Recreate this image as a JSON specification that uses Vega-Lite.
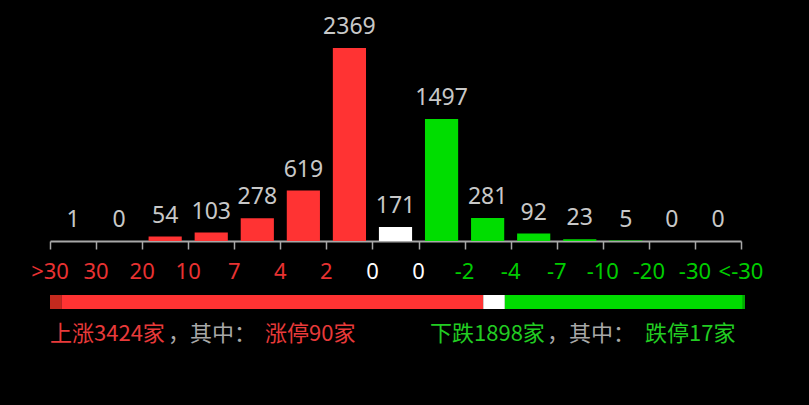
{
  "$schema": "https://vega.github.io/schema/vega-lite/v6.json",
  "background": "#000000",
  "autosize": {"type": "pad"},
  "padding": {"left": 31, "top": 10, "right": 45, "bottom": 60},
  "bounds": "flush",
  "spacing": 54,
  "config": {"view": {"stroke": null}, "font": "Noto Sans"},
  "datasets": {
    "bars": [
      {"bin": ">30", "n": 1, "dir": "up"},
      {"bin": "30~20", "n": 0, "dir": "up"},
      {"bin": "20~10", "n": 54, "dir": "up"},
      {"bin": "10~7", "n": 103, "dir": "up"},
      {"bin": "7~4", "n": 278, "dir": "up"},
      {"bin": "4~2", "n": 619, "dir": "up"},
      {"bin": "2~0", "n": 2369, "dir": "up"},
      {"bin": "0", "n": 171, "dir": "flat"},
      {"bin": "0~-2", "n": 1497, "dir": "down"},
      {"bin": "-2~-4", "n": 281, "dir": "down"},
      {"bin": "-4~-7", "n": 92, "dir": "down"},
      {"bin": "-7~-10", "n": 23, "dir": "down"},
      {"bin": "-10~-20", "n": 5, "dir": "down"},
      {"bin": "-20~-30", "n": 0, "dir": "down"},
      {"bin": "<-30", "n": 0, "dir": "down"}
    ],
    "ticks": [
      {"label": ">30", "bin": ">30", "edge": "start", "sign": "pos"},
      {"label": "30", "bin": "30~20", "edge": "start", "sign": "pos"},
      {"label": "20", "bin": "20~10", "edge": "start", "sign": "pos"},
      {"label": "10", "bin": "10~7", "edge": "start", "sign": "pos"},
      {"label": "7", "bin": "7~4", "edge": "start", "sign": "pos"},
      {"label": "4", "bin": "4~2", "edge": "start", "sign": "pos"},
      {"label": "2", "bin": "2~0", "edge": "start", "sign": "pos"},
      {"label": "0", "bin": "0", "edge": "start", "sign": "zero"},
      {"label": "0", "bin": "0~-2", "edge": "start", "sign": "zero"},
      {"label": "-2", "bin": "-2~-4", "edge": "start", "sign": "neg"},
      {"label": "-4", "bin": "-4~-7", "edge": "start", "sign": "neg"},
      {"label": "-7", "bin": "-7~-10", "edge": "start", "sign": "neg"},
      {"label": "-10", "bin": "-10~-20", "edge": "start", "sign": "neg"},
      {"label": "-20", "bin": "-20~-30", "edge": "start", "sign": "neg"},
      {"label": "-30", "bin": "<-30", "edge": "start", "sign": "neg"},
      {"label": "<-30", "bin": "<-30", "edge": "end", "sign": "neg"}
    ],
    "split": [
      {"seg": "涨停", "n": 90},
      {"seg": "上涨", "n": 3334},
      {"seg": "平盘", "n": 171},
      {"seg": "下跌", "n": 1881},
      {"seg": "跌停", "n": 17}
    ],
    "caption": [
      {"part": "upAll", "txt": "上涨3424家", "tone": "up"},
      {"part": "upNote", "txt": "，其中：", "tone": "note"},
      {"part": "upLimit", "txt": "涨停90家", "tone": "up"},
      {"part": "downAll", "txt": "下跌1898家", "tone": "down"},
      {"part": "downNote", "txt": "，其中：", "tone": "note"},
      {"part": "downLimit", "txt": "跌停17家", "tone": "down"}
    ]
  },
  "vconcat": [
    {
      "width": 691,
      "height": 231,
      "data": {"name": "bars"},
      "layer": [
        {
          "mark": {"type": "bar", "width": {"band": 0.72}},
          "encoding": {
            "x": {
              "field": "bin",
              "type": "nominal",
              "scale": {
                "domain": [">30", "30~20", "20~10", "10~7", "7~4", "4~2", "2~0", "0", "0~-2", "-2~-4", "-4~-7", "-7~-10", "-10~-20", "-20~-30", "<-30"],
                "paddingInner": 0,
                "paddingOuter": 0
              },
              "axis": {
                "title": null,
                "labels": false,
                "grid": false,
                "tickBand": "extent",
                "tickSize": 8,
                "tickWidth": 1.5,
                "domainWidth": 2,
                "domainColor": "#a8a8a8",
                "tickColor": "#a8a8a8"
              }
            },
            "y": {
              "field": "n",
              "type": "quantitative",
              "scale": {"domain": [0, 2835], "nice": false},
              "axis": null
            },
            "color": {
              "field": "dir",
              "type": "nominal",
              "scale": {"domain": ["up", "flat", "down"], "range": ["#ff3333", "#ffffff", "#00dd00"]},
              "legend": null
            }
          }
        },
        {
          "mark": {"type": "text", "baseline": "alphabetic", "dy": -14, "fontSize": 23, "color": "#c8c8c8"},
          "encoding": {
            "x": {"field": "bin", "type": "nominal"},
            "y": {"field": "n", "type": "quantitative"},
            "text": {"field": "n"}
          }
        },
        {
          "data": {"name": "ticks"},
          "transform": [{"filter": "datum.edge == 'start'"}],
          "mark": {"type": "text", "baseline": "middle", "dy": 31, "fontSize": 22},
          "encoding": {
            "x": {"field": "bin", "type": "nominal", "bandPosition": 0},
            "y": {"datum": 0, "type": "quantitative"},
            "text": {"field": "label"},
            "color": {
              "field": "sign",
              "type": "nominal",
              "scale": {"domain": ["pos", "zero", "neg"], "range": ["#e83232", "#ffffff", "#00cc00"]},
              "legend": null
            }
          }
        },
        {
          "data": {"name": "ticks"},
          "transform": [{"filter": "datum.edge == 'end'"}],
          "mark": {"type": "text", "baseline": "middle", "dy": 31, "fontSize": 22},
          "encoding": {
            "x": {"field": "bin", "type": "nominal", "bandPosition": 1},
            "y": {"datum": 0, "type": "quantitative"},
            "text": {"field": "label"},
            "color": {
              "field": "sign",
              "type": "nominal",
              "scale": {"domain": ["pos", "zero", "neg"], "range": ["#e83232", "#ffffff", "#00cc00"]},
              "legend": null
            }
          }
        }
      ],
      "resolve": {"scale": {"color": "independent"}}
    },
    {
      "width": 695,
      "height": 14,
      "layer": [
        {
          "data": {"name": "split"},
          "transform": [{"window": [{"op": "row_number", "as": "rank"}]}],
          "mark": {"type": "bar", "height": 14},
          "encoding": {
            "x": {
              "field": "n",
              "type": "quantitative",
              "stack": "zero",
              "scale": {"domain": [0, 5493], "nice": false},
              "axis": null
            },
            "order": {"field": "rank", "type": "quantitative"},
            "color": {
              "field": "seg",
              "type": "nominal",
              "scale": {
                "domain": ["涨停", "上涨", "平盘", "下跌", "跌停"],
                "range": ["#c42a1e", "#ff3333", "#ffffff", "#00dd00", "#00a800"]
              },
              "legend": null
            }
          }
        },
        {
          "data": {"name": "caption"},
          "transform": [{"filter": "datum.part == 'upAll'"}],
          "mark": {"type": "text", "align": "left", "baseline": "middle", "dy": 32, "dx": 0, "fontSize": 22, "font": "Noto Sans CJK SC"},
          "encoding": {
            "x": {"datum": 0, "type": "quantitative"},
            "text": {"field": "txt"},
            "color": {"field": "tone", "type": "nominal", "scale": {"domain": ["up", "note", "down"], "range": ["#e83a3a", "#a8a8a8", "#22cc22"]}, "legend": null}
          }
        },
        {
          "data": {"name": "caption"},
          "transform": [{"filter": "datum.part == 'upNote'"}],
          "mark": {"type": "text", "align": "left", "baseline": "middle", "dy": 32, "dx": 118, "fontSize": 22, "font": "Noto Sans CJK SC"},
          "encoding": {
            "x": {"datum": 0, "type": "quantitative"},
            "text": {"field": "txt"},
            "color": {"field": "tone", "type": "nominal", "scale": {"domain": ["up", "note", "down"], "range": ["#e83a3a", "#a8a8a8", "#22cc22"]}, "legend": null}
          }
        },
        {
          "data": {"name": "caption"},
          "transform": [{"filter": "datum.part == 'upLimit'"}],
          "mark": {"type": "text", "align": "left", "baseline": "middle", "dy": 32, "dx": 215, "fontSize": 22, "font": "Noto Sans CJK SC"},
          "encoding": {
            "x": {"datum": 0, "type": "quantitative"},
            "text": {"field": "txt"},
            "color": {"field": "tone", "type": "nominal", "scale": {"domain": ["up", "note", "down"], "range": ["#e83a3a", "#a8a8a8", "#22cc22"]}, "legend": null}
          }
        },
        {
          "data": {"name": "caption"},
          "transform": [{"filter": "datum.part == 'downAll'"}],
          "mark": {"type": "text", "align": "left", "baseline": "middle", "dy": 32, "dx": 380, "fontSize": 22, "font": "Noto Sans CJK SC"},
          "encoding": {
            "x": {"datum": 0, "type": "quantitative"},
            "text": {"field": "txt"},
            "color": {"field": "tone", "type": "nominal", "scale": {"domain": ["up", "note", "down"], "range": ["#e83a3a", "#a8a8a8", "#22cc22"]}, "legend": null}
          }
        },
        {
          "data": {"name": "caption"},
          "transform": [{"filter": "datum.part == 'downNote'"}],
          "mark": {"type": "text", "align": "left", "baseline": "middle", "dy": 32, "dx": 497, "fontSize": 22, "font": "Noto Sans CJK SC"},
          "encoding": {
            "x": {"datum": 0, "type": "quantitative"},
            "text": {"field": "txt"},
            "color": {"field": "tone", "type": "nominal", "scale": {"domain": ["up", "note", "down"], "range": ["#e83a3a", "#a8a8a8", "#22cc22"]}, "legend": null}
          }
        },
        {
          "data": {"name": "caption"},
          "transform": [{"filter": "datum.part == 'downLimit'"}],
          "mark": {"type": "text", "align": "left", "baseline": "middle", "dy": 32, "dx": 595, "fontSize": 22, "font": "Noto Sans CJK SC"},
          "encoding": {
            "x": {"datum": 0, "type": "quantitative"},
            "text": {"field": "txt"},
            "color": {"field": "tone", "type": "nominal", "scale": {"domain": ["up", "note", "down"], "range": ["#e83a3a", "#a8a8a8", "#22cc22"]}, "legend": null}
          }
        }
      ],
      "resolve": {"scale": {"color": "independent"}}
    }
  ]
}
